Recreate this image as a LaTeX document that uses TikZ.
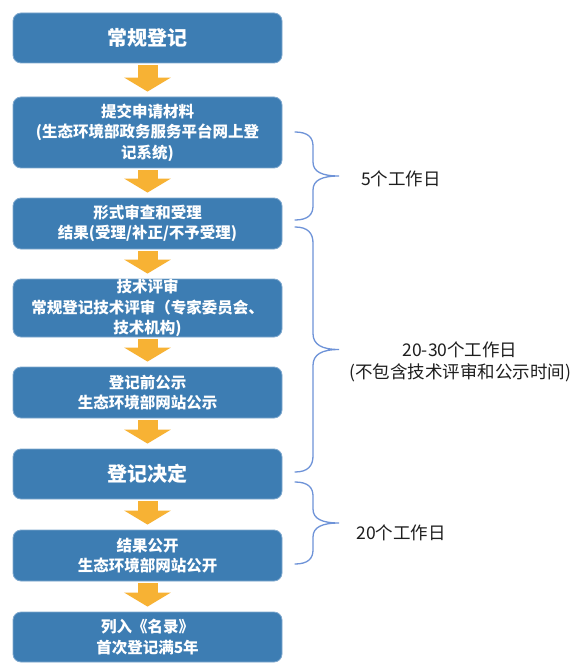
\documentclass[tikz,border=0pt]{standalone}
\usepackage{fontspec}
\setmainfont{Noto Sans CJK SC}
\usetikzlibrary{arrows.meta,calc}
\definecolor{boxblue}{HTML}{3D7DB3}
\definecolor{boxedge}{HTML}{7FA8CE}
\definecolor{arrowgold}{HTML}{F7B234}
\definecolor{braceblue}{HTML}{6E93D8}
\definecolor{labelgray}{HTML}{1E1E1E}
\begin{document}
\begin{tikzpicture}[x=1pt,y=1pt,
  stepbox/.style={draw=boxedge, line width=0.8pt, fill=boxblue, rounded corners=8pt,
    minimum width=269pt, text=white, align=center, inner sep=0pt,
    font=\fontsize{15.5}{20.5}\selectfont\bfseries},
  titlebox/.style={stepbox, font=\fontsize{20}{24}\selectfont\bfseries},
  blockarrow/.style={draw=arrowgold, line width=20pt,
    -{Triangle[width=46pt,length=14pt,fill=arrowgold]}, shorten <=2pt, shorten >=5pt},
  bracepath/.style={draw=braceblue, line width=1.3pt, line cap=round},
  daylabel/.style={text=labelgray, align=center, inner sep=0pt,
    font=\fontsize{17.5}{22}\selectfont}
]
\useasboundingbox[fill=white] (0,0) rectangle (584,-671);

\node[titlebox, minimum height=50pt] (b1) at (147.5,-38) {常规登记};
\node[stepbox, minimum height=71pt] (b2) at (147.5,-132.5) {提交申请材料\\(生态环境部政务服务平台网上登\\记系统)};
\node[stepbox, minimum height=51pt] (b3) at (147.5,-223.5) {形式审查和受理\\结果(受理/补正/不予受理)};
\node[stepbox, minimum height=58pt] (b4) at (147.5,-308) {\rule{0pt}{4pt}技术评审\\常规登记技术评审（专家委员会、\\技术机构)};
\node[stepbox, minimum height=51pt] (b5) at (147.5,-392.5) {登记前公示\\生态环境部网站公示};
\node[titlebox, minimum height=50pt] (b6) at (147.5,-474) {登记决定};
\node[stepbox, minimum height=51pt] (b7) at (147.5,-555.5) {结果公开\\生态环境部网站公开};
\node[stepbox, minimum height=50pt] (b8) at (147.5,-637) {列入《名录》\\首次登记满5年};

\draw[blockarrow] (b1.south) -- (b2.north);
\draw[blockarrow] (b2.south) -- (b3.north);
\draw[blockarrow] (b3.south) -- (b4.north);
\draw[blockarrow] (b4.south) -- (b5.north);
\draw[blockarrow] (b5.south) -- (b6.north);
\draw[blockarrow] (b6.south) -- (b7.north);
\draw[blockarrow] (b7.south) -- (b8.north);

% braces
\newcommand\officebrace[3]{% top, bottom, curve length
  \pgfmathsetmacro\bm{(#1+#2)/2}
  \draw[bracepath] (295,-#1) .. controls (308,-#1) and (313,-#1-#3*0.4) .. (313,-#1-#3)
    -- (313,-\bm+#3) .. controls (313,-\bm+#3*0.3) and (322,-\bm) .. (339,-\bm)
    .. controls (322,-\bm) and (313,-\bm-#3*0.3) .. (313,-\bm-#3)
    -- (313,-#2+#3) .. controls (313,-#2+#3*0.4) and (308,-#2) .. (295,-#2);
}
\officebrace{132}{220}{14}
\officebrace{227}{472}{16}
\officebrace{482}{564}{14}

\node[daylabel] (l1) at (401,-179) {5个工作日};
\node[daylabel] (l2) at (460,-362) {20-30个工作日\\(不包含技术评审和公示时间)};
\node[daylabel] (l3) at (401,-533) {20个工作日};
\end{tikzpicture}
\end{document}
